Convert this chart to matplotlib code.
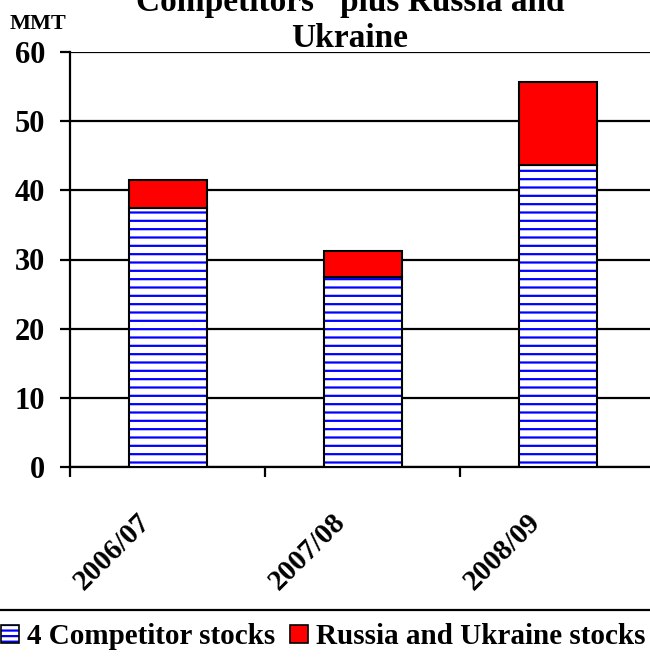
import numpy as np
import matplotlib.pyplot as plt
import matplotlib.transforms as mtransforms
from matplotlib.lines import Line2D
from matplotlib.patches import Patch
from matplotlib.legend_handler import HandlerTuple

plt.rcParams['font.family'] = ['Liberation Serif', 'DejaVu Serif']
plt.rcParams['font.weight'] = 'bold'
plt.rcParams['hatch.linewidth'] = 1.6

# data (MMT)
years = ["2006/07", "2007/08", "2008/09"]
competitor_stocks = [37.4, 27.4, 43.7]
russia_ukraine_stocks = [4.1, 3.8, 12.0]

fig = plt.figure(figsize=(6.5, 6.59), dpi=100)
W, H = 650, 659
# axes right edge runs past the figure edge like the original
ax = fig.add_axes([70 / W, (H - 467) / H, 585 / W, 415 / H])

x = np.arange(len(years))
# blue hatch first, black outline on top
ax.bar(x, competitor_stocks, width=0.4, color='white', edgecolor='blue',
       linewidth=0, hatch='--', zorder=3)
ax.bar(x, competitor_stocks, width=0.4, fill=False, edgecolor='black',
       linewidth=1.5, zorder=4)
ax.bar(x, russia_ukraine_stocks, width=0.4, bottom=competitor_stocks,
       color='red', edgecolor='black', linewidth=1.5, zorder=4)

ax.set_xlim(-0.5, 2.5)
ax.set_ylim(0, 60)
ax.set_yticks(np.arange(0, 61, 10))
ax.yaxis.grid(True, color='black', linewidth=1.6, zorder=0)
ax.set_axisbelow(True)
for s in ['top', 'right']:
    ax.spines[s].set_visible(False)
for s in ['left', 'bottom']:
    ax.spines[s].set_linewidth(1.6)

ax.tick_params(axis='y', labelsize=22, length=7, width=1.6, pad=11)
ax.set_xticks([-0.5, 0.5, 1.5])
ax.set_xticklabels([])
ax.tick_params(axis='x', which='major', length=7, width=1.6, direction='out')
ax.set_xticks(x, minor=True)
ax.set_xticklabels(years, minor=True, rotation=45, ha='right', va='top',
                   rotation_mode='anchor', fontsize=21)
ax.tick_params(axis='x', which='minor', length=0, pad=30)
offset = mtransforms.ScaledTranslation(-0.31, 0, fig.dpi_scale_trans)
for lab in ax.get_xticklabels(minor=True):
    lab.set_transform(lab.get_transform() + offset)

fig.text(38 / W, 1 - 24 / H, "MMT", ha='center', va='center', fontsize=16)
fig.text(350 / W, 1 - 11 / H, "Competitors'  plus Russia and", ha='center',
         va='baseline', fontsize=24)
fig.text(350 / W, 1 - 47 / H, "Ukraine", ha='center', va='baseline', fontsize=24)

fig.add_artist(Line2D([0, 1], [1 - 610 / H, 1 - 610 / H], color='black',
                      linewidth=1.6, transform=fig.transFigure))
hatched = (Patch(facecolor='white', edgecolor='blue', hatch='---', linewidth=0),
           Patch(fill=False, edgecolor='black', linewidth=1.2))
solid = Patch(facecolor='red', edgecolor='black', linewidth=1.2)
fig.legend([hatched, solid], ["4 Competitor stocks", "Russia and Ukraine stocks"],
           handler_map={tuple: HandlerTuple(ndivide=1, pad=0)},
           loc='center left', bbox_to_anchor=(1 / W, 22 / H), ncol=2,
           frameon=False, borderpad=0, borderaxespad=0,
           fontsize=21, handlelength=0.6, handleheight=0.6, handletextpad=0.3,
           columnspacing=0.5)

fig.savefig("out.png", dpi=100)
